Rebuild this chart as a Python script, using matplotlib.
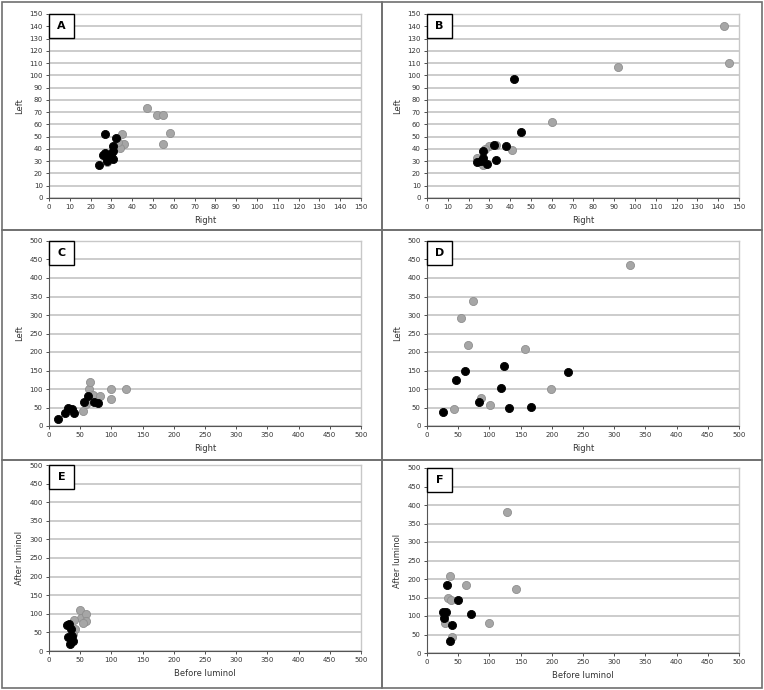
import matplotlib.pyplot as plt
from matplotlib.patches import Rectangle

# --- donnees ---
a_noir_x = [24, 27, 32, 26, 27, 28, 30, 31, 31, 31, 28]
a_noir_y = [27, 52, 49, 35, 37, 33, 36, 42, 38, 32, 30]
a_gris_x = [47, 52, 55, 58, 55, 35, 36, 34, 28, 33]
a_gris_y = [73, 68, 68, 53, 44, 52, 44, 41, 29, 46]

b_noir_x = [42, 45, 38, 32, 27, 27, 24, 29, 33, 26]
b_noir_y = [97, 54, 42, 43, 38, 33, 29, 28, 31, 30]
b_gris_x = [143, 145, 92, 60, 41, 30, 24, 27, 33, 28]
b_gris_y = [140, 110, 107, 62, 39, 42, 33, 27, 43, 40]

c_noir_x = [14, 25, 31, 37, 40, 56, 62, 72, 78]
c_noir_y = [18, 34, 49, 45, 35, 65, 82, 66, 62]
c_gris_x = [54, 60, 64, 66, 70, 82, 99, 99, 124]
c_gris_y = [41, 60, 100, 118, 85, 80, 101, 73, 99]

d_noir_x = [25, 47, 61, 83, 118, 124, 131, 166, 226]
d_noir_y = [39, 125, 148, 65, 102, 163, 48, 52, 145]
d_gris_x = [43, 55, 66, 74, 86, 101, 157, 198, 326]
d_gris_y = [46, 291, 220, 339, 77, 58, 209, 99, 435]

e_noir_x = [29, 32, 30, 34, 37, 38, 35]
e_noir_y = [70, 72, 38, 18, 40, 28, 60]
e_gris_x = [50, 52, 60, 60, 55, 42, 38, 40]
e_gris_y = [111, 90, 100, 80, 75, 60, 47, 83]

f_noir_x = [32, 50, 25, 30, 28, 70, 40, 37]
f_noir_y = [185, 143, 110, 110, 95, 105, 75, 32]
f_gris_x = [128, 142, 37, 62, 33, 38, 100, 29, 40]
f_gris_y = [380, 173, 207, 183, 148, 143, 81, 80, 44]

lettres = ['A', 'B', 'C', 'D', 'E', 'F']
titres_x = ['Right', 'Right', 'Right', 'Right', 'Before luminol', 'Before luminol']
titres_y = ['Left', 'Left', 'Left', 'Left', 'After luminol', 'After luminol']
limites = [150, 150, 500, 500, 500, 500]
pas = [10, 10, 50, 50, 50, 50]

donnees = [
    (a_noir_x, a_noir_y, a_gris_x, a_gris_y),
    (b_noir_x, b_noir_y, b_gris_x, b_gris_y),
    (c_noir_x, c_noir_y, c_gris_x, c_gris_y),
    (d_noir_x, d_noir_y, d_gris_x, d_gris_y),
    (e_noir_x, e_noir_y, e_gris_x, e_gris_y),
    (f_noir_x, f_noir_y, f_gris_x, f_gris_y),
]

# positions des zones de trace (pixels: gauche, haut, droite, bas)
zones = [(49, 14, 361, 198), (427, 14, 739, 198),
         (49, 241, 361, 426), (427, 241, 739, 426),
         (49, 465, 361, 651), (427, 468, 739, 653)]

W, H = 764, 690
fig = plt.figure(figsize=(W / 100, H / 100), dpi=100)
fig.patch.set_facecolor('white')

# cadres des panneaux
for x0, y0, x1, y1 in [(2, 2, 382, 230), (382, 2, 762, 230),
                       (2, 230, 382, 460), (382, 230, 762, 460),
                       (2, 460, 382, 688), (382, 460, 762, 688)]:
    fig.add_artist(Rectangle((x0 / W, 1 - y1 / H), (x1 - x0) / W, (y1 - y0) / H,
                             transform=fig.transFigure, fill=False,
                             edgecolor='#707070', linewidth=1.2))

for i in range(6):
    l, t, r, b = zones[i]
    ax = fig.add_axes([l / W, 1 - b / H, (r - l) / W, (b - t) / H])
    nx, ny, gx, gy = donnees[i]
    lim = limites[i]

    ax.scatter(gx, gy, s=34, color='#a6a6a6', edgecolors='#8f8f8f', linewidths=0.6, zorder=3)
    ax.scatter(nx, ny, s=34, color='black', edgecolors='black', linewidths=0.6, zorder=4)

    ax.set_xlim(0, lim)
    ax.set_ylim(0, lim)
    ax.set_xticks(range(0, lim + 1, pas[i]))
    ax.set_yticks(range(0, lim + 1, pas[i]))
    ax.tick_params(labelsize=5, colors='#333333', length=2.5, width=0.6, pad=2)
    ax.grid(axis='y', color='#c8c8c8', linewidth=1.3)
    ax.set_axisbelow(True)
    for cote in ['top', 'right']:
        ax.spines[cote].set_color('#c8c8c8')
        ax.spines[cote].set_linewidth(1.0)
    for cote in ['left', 'bottom']:
        ax.spines[cote].set_color('#555555')
        ax.spines[cote].set_linewidth(0.8)

    ax.set_xlabel(titres_x[i], fontsize=6, color='#333333', labelpad=4)
    ax.set_ylabel(titres_y[i], fontsize=6, color='#333333', labelpad=4)

    # boite avec la lettre du panneau
    ax.add_patch(Rectangle((0, 1 - 24 / (b - t)), 25 / (r - l), 24 / (b - t),
                           transform=ax.transAxes, facecolor='white',
                           edgecolor='black', linewidth=1.0, zorder=5, clip_on=False))
    ax.text(12.5 / (r - l), 1 - 12 / (b - t), lettres[i], transform=ax.transAxes,
            ha='center', va='center', fontsize=8, fontweight='bold', zorder=6)

fig.savefig('out.png', dpi=100)
